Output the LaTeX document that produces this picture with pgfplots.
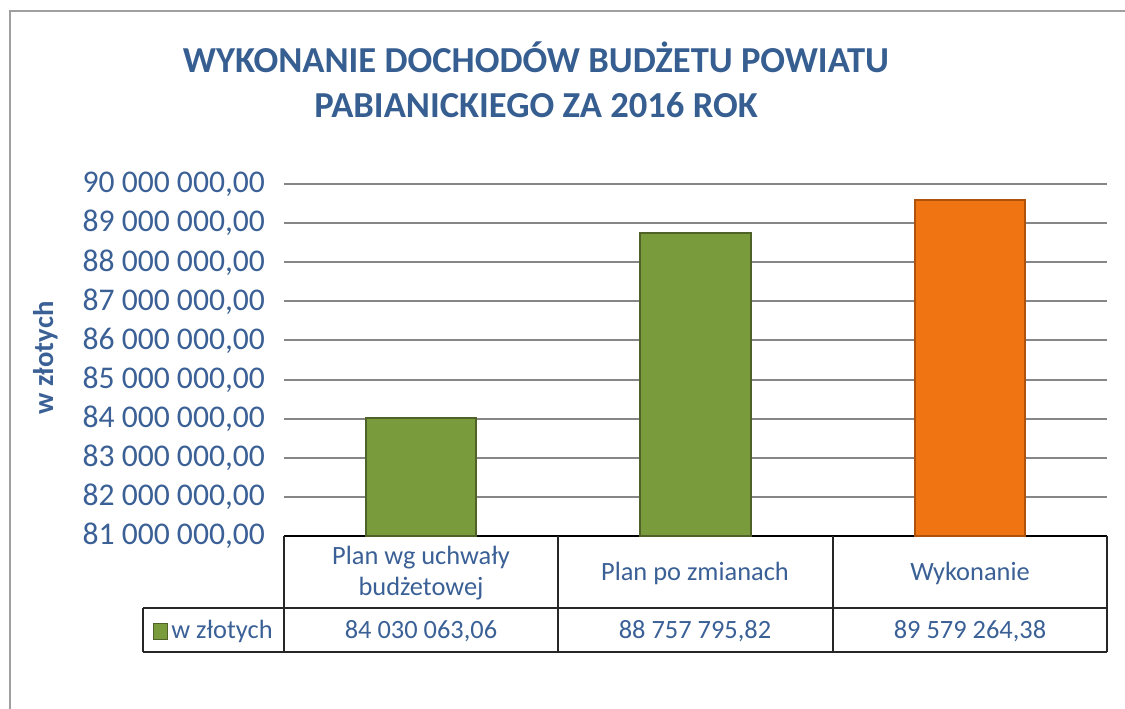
\documentclass[border=0pt]{standalone}
\usepackage{fontspec}
\setmainfont{Carlito}
\usepackage{pgfplots}
\pgfplotsset{compat=1.18}

\definecolor{ttl}{RGB}{54,94,145}
\definecolor{txt}{RGB}{58,96,150}
\definecolor{grn}{RGB}{122,155,60}
\definecolor{grnd}{RGB}{79,98,40}
\definecolor{org}{RGB}{240,116,18}
\definecolor{orgd}{RGB}{175,82,12}
\definecolor{gridc}{RGB}{134,134,134}

\begin{document}
\begin{tikzpicture}
\useasboundingbox (0,0) rectangle (562.5pt,354pt);
\begin{axis}[
    at={(142pt,86pt)}, anchor=south west,
    scale only axis, width=411.5pt, height=176pt,
    xmin=-0.5, xmax=2.5,
    ymin=81000000, ymax=90000000,
    scaled y ticks=false,
    ytick={81000000,82000000,83000000,84000000,85000000,86000000,87000000,88000000,89000000,90000000},
    yticklabels={{81 000 000,00},{82 000 000,00},{83 000 000,00},{84 000 000,00},{85 000 000,00},
                 {86 000 000,00},{87 000 000,00},{88 000 000,00},{89 000 000,00},{90 000 000,00}},
    xtick=\empty,
    ymajorgrids, grid style={gridc, line width=1pt},
    axis x line*=bottom, axis y line*=left,
    y axis line style={draw=none},
    x axis line style={black, line width=0.8pt, -},
    major tick length=0pt,
    yticklabel style={font=\fontsize{15.8}{18}\selectfont, text=txt, xshift=-6pt},
    ylabel={w złotych},
    ylabel style={font=\bfseries\fontsize{14.3}{16}\selectfont, text=txt,
                  at={(axis description cs:-0.290,0.506)}, anchor=center},
    ybar, bar width=55pt, bar shift=0pt,
]
\addplot[fill=grn, draw=grnd, line width=1pt] coordinates {(0,84030063.06)};
\addplot[fill=grn, draw=grnd, line width=1pt] coordinates {(1,88757795.82)};
\addplot[fill=org, draw=orgd, line width=1pt] coordinates {(2,89579264.38)};
\end{axis}

% frame, title and data table, in pixel units of the reference
\begin{scope}[x=0.5pt, y=-0.5pt, yshift=354pt]
\draw[gray!75, line width=1pt] (10,720) -- (10,11) -- (1140,11);
\node[font=\bfseries\fontsize{18.3}{22.5}\selectfont, text=ttl, align=center] at (536,80)
    {WYKONANIE DOCHODÓW BUDŻETU POWIATU\\PABIANICKIEGO ZA 2016 ROK};
\begin{scope}[black!85, line width=0.6pt]
\draw (284,536) -- (284,652);
\draw (558,536) -- (558,652);
\draw (833,536) -- (833,652);
\draw (1107,536) -- (1107,652);
\draw (143,608) -- (1107,608);
\draw (143,652) -- (1107,652);
\draw (143,608) -- (143,652);
\end{scope}
\begin{scope}[every node/.style={font=\fontsize{13.2}{15.5}\selectfont, text=txt, align=center}]
\node at (421,573) {Plan wg uchwały\\budżetowej};
\node at (695,573) {Plan po zmianach};
\node at (970,573) {Wykonanie};
\node at (421,631) {84 030 063,06};
\node at (695,631) {88 757 795,82};
\node at (970,631) {89 579 264,38};
\node[anchor=west, inner sep=0pt] at (171,631) {w złotych};
\end{scope}
\filldraw[fill=grn, draw=grnd, line width=0.5pt] (153,623) rectangle (167,639);
\end{scope}
\end{tikzpicture}
\end{document}
